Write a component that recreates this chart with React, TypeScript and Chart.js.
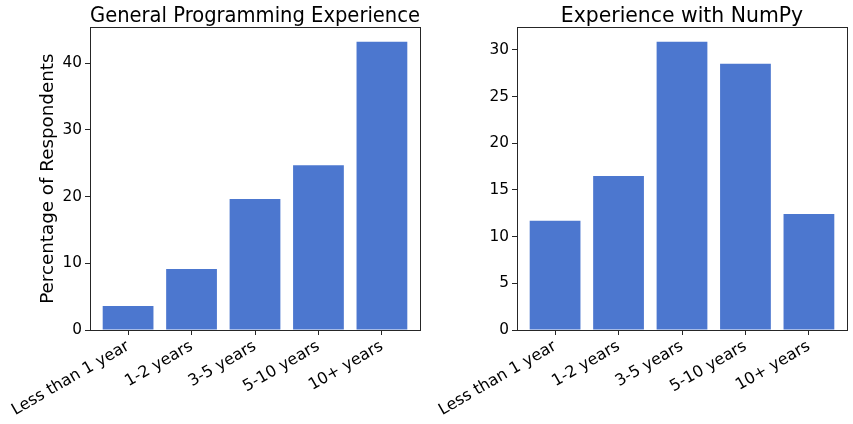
import React, { useEffect, useRef } from "react";
import { Chart, registerables } from "chart.js";

Chart.register(...registerables);

const categories = ["Less than 1 year", "1-2 years", "3-5 years", "5-10 years", "10+ years"];
const generalValues = [3.6, 9.15, 19.65, 24.7, 43.2];
const numpyValues = [11.7, 16.5, 30.86, 28.5, 12.43];
const generalTicks = [0, 10, 20, 30, 40];
const numpyTicks = [0, 5, 10, 15, 20, 25, 30];

const FONT = "'DejaVu Sans', sans-serif";
const BAR_COLOR = "#4C77CF";
const AXIS_COLOR = "#262626";

const framePlugin = {
  id: "frame",
  afterDraw(chart: any) {
    const { ctx, chartArea } = chart;
    ctx.save();
    ctx.strokeStyle = AXIS_COLOR;
    ctx.lineWidth = 1;
    ctx.strokeRect(
      Math.round(chartArea.left) + 0.5,
      Math.round(chartArea.top) + 0.5,
      Math.round(chartArea.right - chartArea.left),
      Math.round(chartArea.bottom - chartArea.top)
    );
    ctx.restore();
  },
};

function BarPanel(props: {
  title: string;
  values: number[];
  ticks: number[];
  yMax: number;
  yLabel?: string;
  yWidth: number;
  padRight: number;
}) {
  const ref = useRef<HTMLCanvasElement | null>(null);
  useEffect(() => {
    if (!ref.current) return;
    const data = props.values.map((v, i) => ({ x: i, y: v }));
    const chart = new Chart(ref.current, {
      type: "bar",
      data: {
        datasets: [
          {
            data: data as any,
            backgroundColor: BAR_COLOR,
            borderWidth: 0,
            barPercentage: 0.8,
            categoryPercentage: 1,
          },
        ],
      },
      options: {
        animation: false,
        responsive: false,
        devicePixelRatio: 1,
        layout: { padding: { left: 0, right: props.padRight, top: 0, bottom: 0 } },
        plugins: {
          legend: { display: false },
          tooltip: { enabled: false },
          title: {
            display: true,
            text: props.title,
            fullSize: false,
            color: "#000",
            font: { family: FONT, size: 20.4, weight: "normal", lineHeight: 1.05 },
            padding: { top: 6, bottom: 0 },
          },
        },
        scales: {
          x: {
            type: "linear",
            offset: false,
            min: -0.6,
            max: 4.6,
            grid: {
              display: true,
              offset: false,
              drawOnChartArea: false,
              drawTicks: true,
              tickLength: 5,
              color: AXIS_COLOR,
            },
            border: { display: true, color: AXIS_COLOR },
            ticks: {
              includeBounds: false,
              stepSize: 1,
              autoSkip: false,
              minRotation: 30,
              maxRotation: 30,
              padding: 2,
              color: "#000",
              font: { family: FONT, size: 16 },
              callback: (v: any) => {
                const idx = Math.round(Number(v));
                return Math.abs(Number(v) - idx) < 1e-6 && categories[idx] !== undefined ? categories[idx] : "";
              },
            },
            afterFit: (scale: any) => {
              scale.height = 94;
            },
          } as any,
          y: {
            type: "linear",
            min: 0,
            max: props.yMax,
            grid: {
              display: true,
              drawOnChartArea: false,
              drawTicks: true,
              tickLength: 5,
              color: AXIS_COLOR,
            },
            border: { display: true, color: AXIS_COLOR },
            afterBuildTicks: (scale: any) => {
              scale.ticks = props.ticks.map((t) => ({ value: t }));
            },
            ticks: {
              padding: 3,
              color: "#000",
              font: { family: FONT, size: 15.3 },
            },
            title: props.yLabel
              ? {
                  display: true,
                  text: props.yLabel,
                  color: "#000",
                  font: { family: FONT, size: 18.3 },
                  padding: { top: 37, bottom: 0 },
                }
              : { display: false },
            afterFit: (scale: any) => {
              scale.width = props.yWidth;
            },
          } as any,
        },
      },
      plugins: [framePlugin],
    });
    return () => chart.destroy();
  }, []);
  return <canvas ref={ref} width={props.yWidth + 330 + props.padRight} height={424} style={{ display: "block" }} />;
}

export default function App() {
  return (
    <div
      style={{
        position: "fixed",
        left: 0,
        top: 0,
        width: 853,
        height: 424,
        background: "#fff",
        display: "flex",
        flexDirection: "row",
      }}
    >
      <BarPanel
        title="General Programming Experience"
        values={generalValues}
        ticks={generalTicks}
        yMax={45.36}
        yLabel="Percentage of Respondents"
        yWidth={90}
        padRight={7}
      />
      <BarPanel
        title="Experience with NumPy"
        values={numpyValues}
        ticks={numpyTicks}
        yMax={32.4}
        yWidth={90}
        padRight={6}
      />
    </div>
  );
}
